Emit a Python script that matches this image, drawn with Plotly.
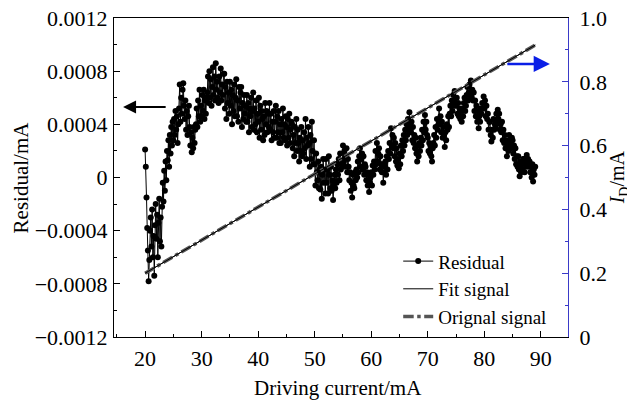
import plotly.graph_objects as go

# ---------------- data ----------------
current_start = 20.0    # mA
current_step = 0.125    # mA

# Residual values in units of 1e-4 mA, one row per mA
residual_1e4 = [
    2.1, 0.8, -1.5, -3.8, -5.5, -7.8, -6.2, -4.0,     # 20
    -3.0, -5.2, -2.4, -6.0, -4.4, -7.4, -3.6, -2.0,   # 21
    -4.6, -2.8, -6.0, -3.4, -1.6, -4.8, -3.0, -5.2,   # 22
    -2.2, -0.4, -1.8, 0.5, -1.0, 1.2, -0.2, 2.0,      # 23
    1.3, 2.8, 0.8, 3.2, 1.8, 3.8, 2.4, 4.2,           # 24
    2.8, 4.4, 3.2, 5.0, 3.6, 4.6, 2.6, 4.0,           # 25
    5.2, 7.0, 4.2, 6.0, 4.8, 6.6, 7.1, 5.4,           # 26
    4.4, 5.8, 3.6, 5.0, 3.2, 4.6, 5.4, 3.8,           # 27
    2.4, 3.4, 1.9, 3.0, 2.2, 3.8, 2.6, 3.6,           # 28
    4.0, 5.2, 3.8, 5.8, 4.6, 6.6, 4.2, 5.4,           # 29
    4.6, 6.2, 5.0, 6.6, 4.4, 5.8, 4.8, 6.0,           # 30
    6.4, 7.6, 5.6, 8.0, 6.0, 7.4, 5.4, 6.8,           # 31
    8.3, 6.2, 7.6, 5.8, 8.6, 6.6, 7.2, 6.0,           # 32
    5.6, 7.6, 6.4, 8.2, 5.8, 7.0, 6.2, 7.8,           # 33
    7.8, 5.2, 6.8, 4.4, 7.2, 5.6, 6.4, 4.8,           # 34
    7.2, 5.4, 6.6, 4.0, 6.2, 5.0, 7.0, 4.6,           # 35
    6.0, 7.4, 4.6, 5.8, 4.2, 6.8, 5.2, 6.4,           # 36
    6.8, 3.8, 5.6, 4.4, 6.2, 4.8, 5.4, 4.2,           # 37
    6.2, 4.2, 5.6, 3.4, 5.2, 4.6, 6.0, 3.8,           # 38
    5.0, 6.4, 3.6, 5.2, 4.0, 5.8, 3.4, 4.8,           # 39
    4.2, 6.0, 3.0, 5.4, 3.6, 5.0, 4.4, 2.8,           # 40
    4.6, 3.2, 5.6, 4.0, 5.0, 3.4, 4.8, 3.8,           # 41
    5.6, 3.6, 4.8, 2.8, 4.2, 3.4, 5.0, 3.0,           # 42
    4.2, 5.4, 3.0, 4.6, 3.4, 5.0, 2.6, 4.0,           # 43
    2.6, 4.4, 3.4, 5.2, 3.0, 4.0, 2.8, 4.6,           # 44
    3.8, 2.4, 4.4, 3.0, 4.8, 2.6, 3.6, 4.2,           # 45
    4.0, 2.2, 3.2, 1.6, 3.8, 2.6, 4.4, 2.0,           # 46
    3.6, 2.6, 1.2, 3.0, 2.0, 3.8, 1.6, 2.8,           # 47
    1.8, 3.4, 2.2, 4.4, 1.4, 3.0, 2.4, 3.8,           # 48
    2.6, 0.8, 3.2, 1.4, 4.2, 2.0, 1.0, 2.8,           # 49
    1.0, -0.6, 1.8, 0.4, -0.2, 1.2, -0.8, 0.6,        # 50
    -0.9, 0.8, -1.6, 0.2, 1.4, -0.4, 0.6, -1.2,       # 51
    1.4, -0.4, 0.6, -1.2, 1.6, 0.2, -0.8, 0.8,        # 52
    -1.0, -0.2, -1.7, -0.6, 0.2, -0.8, 0.6, -0.4,     # 53
    1.0, 0.2, 1.4, -0.2, 1.8, 0.6, 1.2, 0.9,          # 54
    2.4, 1.2, 2.0, 0.8, 1.6, 2.2, 0.4, 1.4,           # 55
    0.8, -0.2, 0.4, -1.0, -0.4, -1.5, 0.2, -0.6,      # 56
    -0.8, 0.4, -0.2, 0.6, 0.0, 1.2, 0.4, 1.6,         # 57
    2.2, 0.8, 1.4, 1.8, 0.6, 1.6, 0.2, 1.0,           # 58
    0.8, -0.2, 0.4, -0.6, 0.2, -1.1, -0.4, 0.0,       # 59
    0.4, -0.6, 0.9, 0.2, 1.2, 0.6, 2.0, 1.0,          # 60
    2.6, 1.2, 1.8, 2.2, 0.6, 1.6, 1.0, 0.4,           # 61
    1.0, -0.4, 0.4, 0.8, 1.2, 0.2, 1.6, 0.6,          # 62
    2.0, 1.4, 2.6, 1.8, 3.7, 2.4, 3.2, 2.2,           # 63
    3.0, 1.6, 2.6, 1.2, 2.2, 0.9, 1.4, 0.7,           # 64
    1.8, 1.0, 2.4, 1.6, 2.8, 2.0, 3.2, 2.4,           # 65
    3.6, 2.8, 4.0, 3.2, 4.4, 3.6, 4.9, 4.0,           # 66
    3.4, 4.2, 2.8, 3.8, 2.6, 3.2, 2.2, 3.0,           # 67
    1.8, 1.2, 2.4, 1.6, 2.6, 2.0, 3.0, 2.4,           # 68
    3.6, 2.8, 4.2, 3.4, 4.7, 3.6, 4.2, 3.2,           # 69
    3.0, 2.0, 2.6, 1.8, 2.4, 1.6, 1.2, 2.2,           # 70
    2.6, 3.2, 2.4, 3.8, 3.0, 4.4, 3.6, 4.0,           # 71
    5.2, 4.0, 4.6, 3.4, 4.2, 3.0, 3.8, 3.2,           # 72
    2.3, 3.4, 2.8, 4.0, 3.6, 4.6, 3.8, 4.8,           # 73
    5.4, 4.6, 5.8, 5.0, 6.2, 5.4, 6.5, 5.6,           # 74
    5.4, 6.0, 4.8, 5.6, 4.6, 5.2, 4.4, 5.0,           # 75
    4.2, 5.2, 4.6, 5.6, 6.0, 5.0, 5.4, 6.2,           # 76
    6.8, 5.8, 6.4, 7.0, 6.2, 7.3, 6.0, 6.6,           # 77
    5.8, 6.4, 5.0, 5.8, 4.6, 5.4, 4.2, 5.0,           # 78
    3.7, 4.6, 4.2, 5.2, 4.8, 5.6, 5.2, 6.1,           # 79
    5.2, 5.8, 4.6, 5.4, 4.4, 4.8, 3.6, 4.2,           # 80
    4.2, 3.2, 2.7, 3.6, 3.0, 4.4, 3.6, 4.0,           # 81
    3.8, 4.8, 4.2, 5.1, 4.4, 4.8, 3.6, 4.0,           # 82
    3.4, 4.2, 2.8, 3.6, 2.6, 3.2, 2.2, 2.8,           # 83
    1.6, 2.6, 2.0, 3.2, 2.4, 2.8, 2.2, 3.0,           # 84
    2.8, 1.8, 2.4, 1.4, 2.2, 1.0, 1.6, 0.8,           # 85
    1.6, 0.6, 0.1, 1.2, 0.4, 1.0, 0.6, 1.4,           # 86
    1.4, 0.4, 1.2, 0.8, 1.7, 1.0, 1.4, 0.8,           # 87
    1.2, 0.4, 0.9, 0.0, 1.0, -0.3, 0.6, 0.2,          # 88
    0.8,                                              # 89
]

fit_current = [20.0, 89.0]
fit_signal = [0.200, 0.915]          # I_D / mA
orig_current = [20.0, 89.0]
orig_signal = [0.200, 0.915]         # I_D / mA

x_ticks = [20, 30, 40, 50, 60, 70, 80, 90]
left_ticks = [-0.0012, -0.0008, -0.0004, 0, 0.0004, 0.0008, 0.0012]
left_ticktext = ["\u22120.0012", "\u22120.0008", "\u22120.0004", "0", "0.0004", "0.0008", "0.0012"]
right_ticks = [0, 0.2, 0.4, 0.6, 0.8, 1.0]
right_ticktext = ["0", "0.2", "0.4", "0.6", "0.8", "1.0"]

current = [current_start + current_step * i for i in range(len(residual_1e4))]
residual = [v * 1e-4 for v in residual_1e4]

# ---------------- figure ----------------
FONT = "Liberation Serif"
BLUE_AX = "#3a3ac8"
fig = go.Figure()

fig.add_trace(go.Scatter(
    x=current, y=residual, name="Residual", mode="lines+markers",
    line=dict(color="black", width=1),
    marker=dict(color="black", size=6),
    yaxis="y",
))
fig.add_trace(go.Scatter(
    x=fit_current, y=fit_signal, name="Fit signal", mode="lines",
    line=dict(color="black", width=1),
    yaxis="y2",
))
fig.add_trace(go.Scatter(
    x=orig_current, y=orig_signal, name="Orignal signal", mode="lines",
    line=dict(color="#555555", width=3.5, dash="dashdot"),
    yaxis="y2",
))
fig.add_trace(go.Scatter(
    x=fit_current, y=fit_signal, mode="lines", showlegend=False,
    line=dict(color="black", width=1), yaxis="y2", hoverinfo="skip",
))

# page body has an 8px margin, so the figure is made 8px smaller in each direction
fig.update_layout(
    width=627, height=392,
    margin=dict(l=106, r=67, t=10, b=63, autoexpand=False),
    paper_bgcolor="white", plot_bgcolor="white",
    font=dict(family=FONT, size=21, color="black"),
    showlegend=True,
    legend=dict(
        x=0.626, y=0.297, xanchor="left", yanchor="top",
        bgcolor="rgba(0,0,0,0)", borderwidth=0,
        font=dict(family=FONT, size=19),
        tracegroupgap=0, itemwidth=30,
    ),
    xaxis=dict(
        range=[14.5, 94.8], tickvals=x_ticks,
        ticks="inside", ticklen=6, tickcolor="black",
        minor=dict(ticks="inside", ticklen=3, dtick=5, tick0=0, tickcolor="black"),
        showline=True, linecolor="black", linewidth=1, mirror=True,
        showgrid=False, zeroline=False, automargin=False,
        ticklabelstandoff=2, ticklabeloverflow="allow",
        tickfont=dict(size=22),
    ),
    yaxis=dict(
        range=[-0.0012, 0.0012], tickvals=left_ticks, ticktext=left_ticktext,
        ticks="inside", ticklen=6, tickcolor="black",
        minor=dict(ticks="inside", ticklen=3, dtick=0.0002, tick0=0, tickcolor="black"),
        showline=True, linecolor="black", linewidth=1,
        showgrid=False, zeroline=False, automargin=False,
        ticklabelstandoff=1, ticklabeloverflow="allow",
        tickfont=dict(size=22),
    ),
    yaxis2=dict(
        range=[0, 1.0], tickvals=right_ticks, ticktext=right_ticktext,
        overlaying="y", side="right",
        ticks="inside", ticklen=6, tickcolor=BLUE_AX,
        minor=dict(ticks="inside", ticklen=3, dtick=0.1, tick0=0, tickcolor=BLUE_AX),
        showline=True, linecolor=BLUE_AX, linewidth=1,
        showgrid=False, zeroline=False, automargin=False,
        ticklabelstandoff=6, ticklabeloverflow="allow",
        tickfont=dict(size=22, color="black"),
    ),
    annotations=[
        # axis titles
        dict(text="Driving current/mA", xref="paper", yref="paper",
             x=0.493, y=-0.16, xanchor="center", yanchor="middle",
             showarrow=False, font=dict(size=21)),
        dict(text="Residual/mA", xref="paper", yref="paper",
             x=-0.205, y=0.5, xanchor="center", yanchor="middle",
             textangle=-90, showarrow=False, font=dict(size=21)),
        dict(text="<i>I</i><sub>D</sub>/mA", xref="paper", yref="paper",
             x=1.112, y=0.5, xanchor="center", yanchor="middle",
             textangle=-90, showarrow=False, font=dict(size=20)),
        # direction arrows
        dict(x=16.1, y=0.00053, ax=23.9, ay=0.00053, xref="x", yref="y",
             axref="x", ayref="y", showarrow=True, arrowhead=2, arrowsize=1.3,
             arrowwidth=2, arrowcolor="black", text=""),
        dict(x=91.6, y=0.856, ax=83.8, ay=0.856, xref="x", yref="y2",
             axref="x", ayref="y2", showarrow=True, arrowhead=2, arrowsize=1.3,
             arrowwidth=2.5, arrowcolor="#0a1ee6", text=""),
    ],
)

fig.write_html("out.html")
